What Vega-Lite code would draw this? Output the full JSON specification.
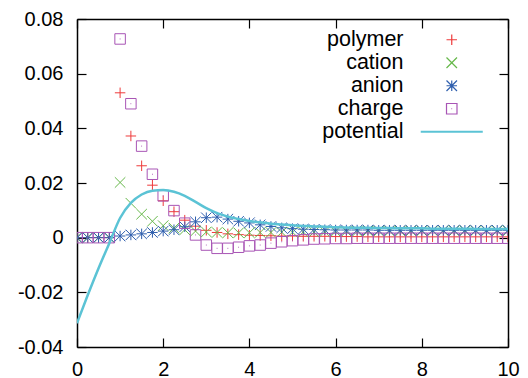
{
  "$schema": "https://vega.github.io/schema/vega-lite/v6.json",
  "width": 431,
  "height": 328,
  "autosize": {"type": "none"},
  "padding": {"left": 77, "top": 19, "right": 20, "bottom": 31},
  "config": {
    "view": {"stroke": null},
    "font": "Liberation Sans",
    "axis": {
      "grid": false,
      "title": null,
      "domainColor": "black",
      "domainWidth": 1.5,
      "tickColor": "black",
      "tickWidth": 1.2,
      "tickSize": -9,
      "labelFontSize": 20,
      "labelColor": "black",
      "labelFont": "Liberation Sans"
    }
  },
  "data": {
    "values": [
      {"x": 0, "polymer": 0, "cation": 0, "anion": 0, "charge": 0, "potential": -0.0313},
      {"x": 0.25, "polymer": 0, "cation": 0, "anion": 0, "charge": 0, "potential": -0.021},
      {"x": 0.5, "polymer": 0, "cation": 0, "anion": 0, "charge": 0, "potential": -0.0112},
      {"x": 0.75, "polymer": 0, "cation": 0, "anion": 0, "charge": 0, "potential": -0.002},
      {"x": 1.0, "polymer": 0.053, "cation": 0.0202, "anion": 0.0006, "charge": 0.0727, "potential": 0.0072},
      {"x": 1.25, "polymer": 0.0372, "cation": 0.0126, "anion": 0.001, "charge": 0.049, "potential": 0.0127},
      {"x": 1.5, "polymer": 0.0263, "cation": 0.0086, "anion": 0.0014, "charge": 0.0335, "potential": 0.0158},
      {"x": 1.75, "polymer": 0.0192, "cation": 0.006, "anion": 0.0019, "charge": 0.0232, "potential": 0.0172},
      {"x": 2.0, "polymer": 0.0135, "cation": 0.0044, "anion": 0.0024, "charge": 0.0153, "potential": 0.0174},
      {"x": 2.25, "polymer": 0.0095, "cation": 0.0035, "anion": 0.0029, "charge": 0.0099, "potential": 0.0168},
      {"x": 2.5, "polymer": 0.0064, "cation": 0.0029, "anion": 0.004, "charge": 0.0053, "potential": 0.0153},
      {"x": 2.75, "polymer": 0.0042, "cation": 0.0024, "anion": 0.0058, "charge": 0.001, "potential": 0.0131},
      {"x": 3.0, "polymer": 0.0027, "cation": 0.0021, "anion": 0.0073, "charge": -0.0027, "potential": 0.0108},
      {"x": 3.25, "polymer": 0.0019, "cation": 0.0019, "anion": 0.0075, "charge": -0.0039, "potential": 0.009},
      {"x": 3.5, "polymer": 0.0014, "cation": 0.0018, "anion": 0.0068, "charge": -0.0039, "potential": 0.0077},
      {"x": 3.75, "polymer": 0.0011, "cation": 0.0018, "anion": 0.006, "charge": -0.0035, "potential": 0.0068},
      {"x": 4.0, "polymer": 0.0009, "cation": 0.0018, "anion": 0.0054, "charge": -0.003, "potential": 0.0061},
      {"x": 4.25, "polymer": 0.0008, "cation": 0.0019, "anion": 0.0047, "charge": -0.0027, "potential": 0.0056},
      {"x": 4.5, "polymer": 0.0007, "cation": 0.0019, "anion": 0.0041, "charge": -0.002, "potential": 0.0051},
      {"x": 4.75, "polymer": 0.0006, "cation": 0.002, "anion": 0.0036, "charge": -0.0015, "potential": 0.0048},
      {"x": 5.0, "polymer": 0.0006, "cation": 0.002, "anion": 0.0033, "charge": -0.0011, "potential": 0.0045},
      {"x": 5.25, "polymer": 0.0005, "cation": 0.0021, "anion": 0.0031, "charge": -0.0008, "potential": 0.0043},
      {"x": 5.5, "polymer": 0.0005, "cation": 0.0021, "anion": 0.003, "charge": -0.0005, "potential": 0.0041},
      {"x": 5.75, "polymer": 0.0005, "cation": 0.0022, "anion": 0.0029, "charge": -0.0004, "potential": 0.004},
      {"x": 6.0, "polymer": 0.0004, "cation": 0.0022, "anion": 0.0028, "charge": -0.0003, "potential": 0.0038},
      {"x": 6.25, "polymer": 0.0004, "cation": 0.0023, "anion": 0.0028, "charge": -0.0003, "potential": 0.0037},
      {"x": 6.5, "polymer": 0.0004, "cation": 0.0023, "anion": 0.0028, "charge": -0.0002, "potential": 0.0036},
      {"x": 6.75, "polymer": 0.0003, "cation": 0.0024, "anion": 0.0028, "charge": -0.0002, "potential": 0.0036},
      {"x": 7.0, "polymer": 0.0003, "cation": 0.0024, "anion": 0.0027, "charge": -0.0002, "potential": 0.0035},
      {"x": 7.25, "polymer": 0.0003, "cation": 0.0024, "anion": 0.0027, "charge": -0.0002, "potential": 0.0035},
      {"x": 7.5, "polymer": 0.0003, "cation": 0.0024, "anion": 0.0027, "charge": -0.0002, "potential": 0.0034},
      {"x": 7.75, "polymer": 0.0003, "cation": 0.0025, "anion": 0.0027, "charge": -0.0002, "potential": 0.0034},
      {"x": 8.0, "polymer": 0.0003, "cation": 0.0025, "anion": 0.0027, "charge": -0.0002, "potential": 0.0034},
      {"x": 8.25, "polymer": 0.0003, "cation": 0.0025, "anion": 0.0027, "charge": -0.0002, "potential": 0.0033},
      {"x": 8.5, "polymer": 0.0003, "cation": 0.0025, "anion": 0.0027, "charge": -0.0002, "potential": 0.0033},
      {"x": 8.75, "polymer": 0.0003, "cation": 0.0025, "anion": 0.0027, "charge": -0.0002, "potential": 0.0033},
      {"x": 9.0, "polymer": 0.0003, "cation": 0.0025, "anion": 0.0027, "charge": -0.0002, "potential": 0.0033},
      {"x": 9.25, "polymer": 0.0003, "cation": 0.0025, "anion": 0.0027, "charge": -0.0002, "potential": 0.0032},
      {"x": 9.5, "polymer": 0.0003, "cation": 0.0025, "anion": 0.0027, "charge": -0.0002, "potential": 0.0032},
      {"x": 9.75, "polymer": 0.0003, "cation": 0.0025, "anion": 0.0027, "charge": -0.0002, "potential": 0.0032},
      {"x": 10.0, "polymer": 0.0003, "cation": 0.0025, "anion": 0.0027, "charge": -0.0002, "potential": 0.0032}
    ]
  },
  "resolve": {"axis": {"x": "independent", "y": "independent"}},
  "layer": [
    {
      "transform": [{"fold": ["polymer", "cation", "anion", "charge"], "as": ["series", "value"]}],
      "mark": {"type": "point", "filled": false, "size": 110, "strokeWidth": 1, "opacity": 1, "clip": true},
      "encoding": {
        "x": {
          "field": "x", "type": "quantitative",
          "scale": {"domain": [0, 10], "nice": false, "zero": false},
          "axis": {"orient": "bottom", "values": [0, 2, 4, 6, 8, 10], "labelPadding": 21, "labelFlush": false}
        },
        "y": {
          "field": "value", "type": "quantitative",
          "scale": {"domain": [-0.04, 0.08], "nice": false, "zero": false},
          "axis": {
            "orient": "left",
            "values": [-0.04, -0.02, 0, 0.02, 0.04, 0.06, 0.08],
            "labelPadding": 23,
            "labelFlush": false,
            "labelExpr": "datum.value == 0 ? '0' : (datum.value < 0 ? '-' + format(-datum.value, '.2f') : format(datum.value, '.2f'))"
          }
        },
        "color": {
          "field": "series", "type": "nominal",
          "scale": {
            "domain": ["polymer", "cation", "anion", "charge", "potential"],
            "range": ["#ee3b3b", "#66b84a", "#2f5fae", "#a855b5", "#5bc3d5"]
          },
          "legend": {
            "title": null,
            "orient": "none",
            "legendX": 364,
            "legendY": 10,
            "padding": 0,
            "symbolSize": 110,
            "symbolStrokeWidth": 1.2,
            "labelAlign": "right",
            "labelOffset": -59,
            "labelFontSize": 21.5,
            "labelFont": "Liberation Sans",
            "labelColor": "black",
            "rowPadding": 0,
            "labelLimit": 300
          }
        },
        "shape": {
          "field": "series", "type": "nominal",
          "scale": {
            "domain": ["polymer", "cation", "anion", "charge", "potential"],
            "range": [
              "M-1,0H1M0,-1V1",
              "M-1,-1L1,1M-1,1L1,-1",
              "M-1,0H1M0,-1V1M-1,-1L1,1M-1,1L1,-1",
              "M-1,-1H1V1H-1ZM-0.08,0H0.08",
              "M-5.8,-0.1H5.8V0.1H-5.8Z"
            ]
          },
          "legend": {
            "title": null,
            "orient": "none",
            "legendX": 364,
            "legendY": 10,
            "padding": 0,
            "symbolSize": 110,
            "symbolStrokeWidth": 1.2,
            "labelAlign": "right",
            "labelOffset": -59,
            "labelFontSize": 21.5,
            "labelFont": "Liberation Sans",
            "labelColor": "black",
            "rowPadding": 0,
            "labelLimit": 300
          }
        }
      }
    },
    {
      "mark": {"type": "line", "color": "#5bc3d5", "strokeWidth": 2.5, "interpolate": "monotone", "clip": true},
      "encoding": {
        "x": {"field": "x", "type": "quantitative", "axis": null},
        "y": {"field": "potential", "type": "quantitative", "axis": null}
      }
    },
    {
      "mark": {"type": "point", "opacity": 0},
      "encoding": {
        "x": {
          "field": "x", "type": "quantitative",
          "axis": {"orient": "top", "values": [0, 2, 4, 6, 8, 10], "labels": false}
        },
        "y": {
          "field": "potential", "type": "quantitative",
          "axis": {"orient": "right", "values": [-0.04, -0.02, 0, 0.02, 0.04, 0.06, 0.08], "labels": false}
        }
      }
    }
  ]
}
